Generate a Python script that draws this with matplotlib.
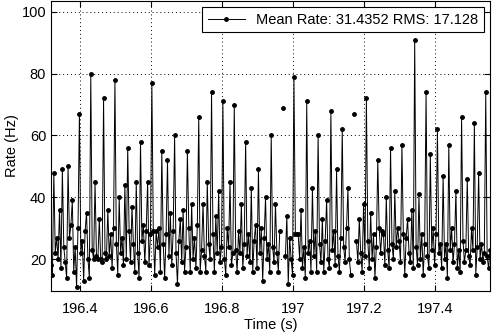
import numpy as np
import matplotlib
matplotlib.use('Agg')
import matplotlib.pyplot as plt

# sample grid (s)
t_start = 196.318
t_step = 0.004

nan = np.nan
rate = [
    18, 15, 48, 22, 27, 20, 36, 17, 49, 24,
    19, 14, 50, 27, 31, 39, 16, 24, 11, 30,
    67, 22, 26, 13, 29, 35, 20, 14, 80, 23,
    20, 45, 21, 20, 33, 20, 19, 72, 22, 20,
    36, 21, 28, 17, 30, 78, 25, 15, 40, 22,
    27, 18, 44, 20, 56, 29, 19, 37, 25, 16,
    45, 22, 14, 58, 26, 31, 19, 29, 45, 18,
    28, 77, 29, 15, 29, 24, 30, 16, 55, 25,
    14, 28, 52, 21, 35, 18, 29, 60, 22, 12,
    26, 33, 19, 36, 16, 24, 55, 30, 16, 38,
    20, 27, 17, 31, 66, 16, 23, 38, 21, 16,
    45, 25, 20, 74, 28, 16, 34, 22, 42, 19,
    24, 71, 20, 15, 30, 24, 45, 18, 22, 70,
    23, 16, 29, 22, 38, 17, 25, 58, 21, 28,
    19, 43, 16, 26, 31, 17, 49, 22, 30, 13,
    27, 40, 20, 25, 16, 60, 24, 19, 38, 22,
    16, 29, nan, 69, nan, 21, 34, 12, 27, 20,
    15, 79, 28, 28, 28, 20, 36, 17, 24, 14,
    71, 22, 26, 16, 43, 21, 29, 16, 60, 25,
    19, 33, 16, 26, 39, 20, 17, 68, 23, 29,
    18, 49, 21, 16, 27, 62, 24, 19, 30, 43,
    20, 15, nan, 67, nan, 26, 19, 33, 22, 16,
    38, 21, 72, 26, 17, 35, 20, 28, 14, 24,
    52, 30, 22, 29, 28, 18, 40, 23, 17, 56,
    25, 20, 42, 24, 30, 26, 19, 57, 28, 15,
    27, 33, 22, 19, 36, 17, 91, 24, 18, 41,
    20, 28, 15, 25, 74, 21, 17, 54, 23, 30,
    18, 28, 62, 22, 25, 17, 47, 20, 25, 14,
    57, 23, 30, 19, 25, 42, 17, 23, 16, 66,
    26, 19, 23, 46, 21, 18, 30, 23, 64, 15,
    24, 48, 20, 25, 19, 22, 74, 21, 17, 23,
]
legend_label = 'Mean Rate: 31.4352 RMS: 17.128'

plt.rcParams['font.family'] = ['Liberation Sans', 'DejaVu Sans']

time = t_start + t_step * np.arange(len(rate))

fig = plt.figure(figsize=(4.93, 3.32), dpi=100)
ax = fig.add_axes([51 / 493, 41 / 332, 439 / 493, 290 / 332])
ax.plot(time, rate, color='k', linewidth=0.7, marker='.', markersize=5, label=legend_label)

ax.set_xlim(196.318, 197.554)
ax.set_ylim(9.7, 103.5)
ax.set_xticks([196.4, 196.6, 196.8, 197.0, 197.2, 197.4])
ax.set_xticklabels(['196.4', '196.6', '196.8', '197', '197.2', '197.4'])
ax.set_yticks([20, 40, 60, 80, 100])
ax.grid(True, color='k', linestyle=(0, (1, 3)), linewidth=0.7)
ax.tick_params(direction='in', top=True, right=True, length=4, labelsize=10.5)
ax.tick_params(axis='x', pad=8)
for s in ax.spines.values():
    s.set_linewidth(0.8)
ax.set_xlabel('Time (s)', fontsize=10.5, labelpad=1)
ax.set_ylabel('Rate (Hz)', fontsize=10.5, labelpad=2)

leg = ax.legend(loc='upper right', fontsize=10.5, fancybox=False, framealpha=1,
                edgecolor='k', handlelength=2.5, borderaxespad=0.4)
leg.get_frame().set_linewidth(0.8)

fig.savefig('out.png', dpi=100)
